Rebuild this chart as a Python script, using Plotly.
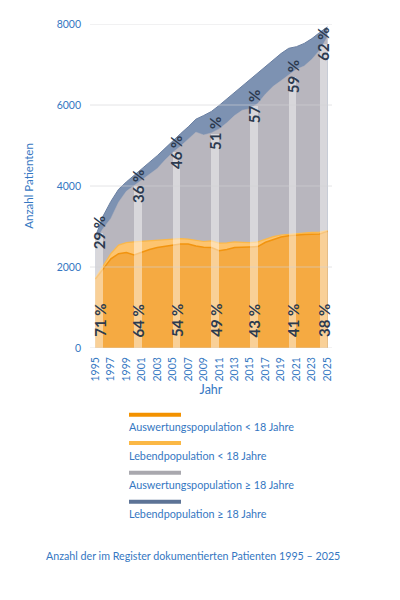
import plotly.graph_objects as go

years = list(range(1995, 2026))

# top boundary of each area (number of patients)
aus_u18 = [1700, 1960, 2200, 2330, 2360, 2300, 2370, 2430, 2480, 2510, 2535, 2565, 2570, 2520, 2490, 2480,
           2400, 2430, 2480, 2490, 2490, 2505, 2610, 2680, 2740, 2770, 2790, 2805, 2810, 2815, 2880]
leb_u18 = [1720, 2030, 2330, 2540, 2600, 2620, 2635, 2650, 2660, 2670, 2685, 2700, 2690, 2660, 2630, 2645,
           2590, 2595, 2620, 2610, 2600, 2620, 2690, 2750, 2790, 2810, 2830, 2845, 2855, 2860, 2900]
aus_18 = [2650, 2950, 3200, 3600, 3870, 4020, 4150, 4290, 4430, 4640, 4830, 4980, 5150, 5330, 5260, 5310,
          5410, 5560, 5740, 5870, 5910, 6040, 6270, 6460, 6600, 6740, 6880, 6960, 7130, 7350, 7680]
leb_18 = [2750, 3260, 3620, 3920, 4100, 4260, 4410, 4570, 4750, 4930, 5120, 5290, 5460, 5650, 5740, 5840,
          5990, 6150, 6300, 6460, 6620, 6780, 6960, 7110, 7270, 7400, 7440, 7520, 7640, 7790, 7930]

pct_x = [1995.5, 2000.5, 2005.5, 2010.5, 2015.5, 2020.5, 2024.5]
pct_u18 = [71, 64, 54, 49, 43, 41, 38]
pct_18 = [29, 36, 46, 51, 57, 59, 62]
pct_top = [2840, 4000, 4830, 5290, 5970, 6700, 7500]

x_ticks = list(range(1995, 2026, 2))
y_ticks = [0, 2000, 4000, 6000, 8000]

legend_names = ["Auswertungspopulation < 18 Jahre", "Lebendpopulation < 18 Jahre",
                "Auswertungspopulation ≥ 18 Jahre", "Lebendpopulation ≥ 18 Jahre"]
legend_colors = ["#f39200", "#fbb845", "#a9a8ae", "#5d7396"]
caption = "Anzahl der im Register dokumentierten Patienten 1995 – 2025"

BLUE = "#3577c2"
TXT = "#2c3a4f"
FONT = "Lato, 'Open Sans', sans-serif"

fig = go.Figure()
fig.add_trace(go.Scatter(x=years, y=leb_18, fill="tozeroy", mode="lines",
                         line=dict(color="#6b80a2", width=1), fillcolor="#7d92b2", hoverinfo="skip"))
fig.add_trace(go.Scatter(x=years, y=aus_18, fill="tozeroy", mode="lines",
                         line=dict(color="#b8b6be", width=0.5), fillcolor="#b8b6be", hoverinfo="skip"))
fig.add_trace(go.Scatter(x=years, y=leb_u18, fill="tozeroy", mode="lines",
                         line=dict(color="#fbb848", width=1.2), fillcolor="#fdc46f", hoverinfo="skip"))
fig.add_trace(go.Scatter(x=years, y=aus_u18, fill="tozeroy", mode="lines",
                         line=dict(color="#f2940f", width=1.5), fillcolor="#f5aa42", hoverinfo="skip"))
# light bars on an overlaid axis so they are drawn above the areas
fig.add_trace(go.Bar(x=pct_x, y=pct_top, width=1.0, yaxis="y2",
                     marker=dict(color="rgba(255,255,255,0.45)", line=dict(width=0)), hoverinfo="skip"))

for xv, p in zip(pct_x, pct_u18):
    fig.add_annotation(x=xv, y=0, yanchor="bottom", xanchor="center", yshift=9, text=f"{p} %",
                       textangle=-90, showarrow=False, font=dict(family=FONT, size=15, color=TXT, weight=700))
for xv, p, t in zip(pct_x, pct_18, pct_top):
    fig.add_annotation(x=xv, y=t, yanchor="middle", xanchor="center", text=f"{p} %",
                       textangle=-90, showarrow=False, font=dict(family=FONT, size=15, color=TXT, weight=700))

# gridlines above the areas
for yv in y_ticks:
    fig.add_shape(type="line", xref="paper", x0=0, x1=1, yref="y", y0=yv, y1=yv,
                  line=dict(color="rgba(212,212,214,0.6)", width=1), layer="above")

L, R, T, B = 90, 332, 24, 348
def px(xp): return (xp - L) / (R - L)
def py(yp): return (B - yp) / (B - T)

leg_line_y = [414.7, 443, 472.7, 501.7]
leg_text_y = [426.7, 455, 484, 513]
for name, col, ly, ty in zip(legend_names, legend_colors, leg_line_y, leg_text_y):
    fig.add_shape(type="line", xref="paper", yref="paper", x0=px(129), x1=px(181), y0=py(ly), y1=py(ly),
                  line=dict(color=col, width=4))
    fig.add_annotation(xref="paper", yref="paper", x=px(127), y=py(ty), xanchor="left", yanchor="middle",
                       text=name, showarrow=False, font=dict(family=FONT, size=10.8, color=BLUE))
fig.add_annotation(xref="paper", yref="paper", x=px(44), y=py(555), xanchor="left", yanchor="middle",
                   text=caption, showarrow=False, font=dict(family=FONT, size=10.7, color=BLUE))

fig.update_layout(
    width=400, height=600, margin=dict(l=L, r=400 - R, t=T, b=600 - B),
    paper_bgcolor="white", plot_bgcolor="white", showlegend=False, bargap=0,
    font=dict(family=FONT, color=BLUE),
    xaxis=dict(range=[1994.3, 2025.6], tickvals=x_ticks, tickangle=-90, showgrid=False, zeroline=False,
               showline=False, ticks="", ticklabelstandoff=6, tickfont=dict(size=10.5, color=BLUE),
               title=dict(text="Jahr", font=dict(size=12.5, color=BLUE), standoff=4)),
    yaxis=dict(range=[0, 8000], tickvals=y_ticks, showgrid=False, zeroline=False, showline=False, ticks="",
               ticklabelstandoff=8, tickfont=dict(size=10.5, color=BLUE),
               title=dict(text="Anzahl Patienten", font=dict(size=11.5, color=BLUE), standoff=20)),
    yaxis2=dict(range=[0, 8000], overlaying="y", matches="y", visible=False, showgrid=False, zeroline=False),
)

fig.write_html("out.html")
